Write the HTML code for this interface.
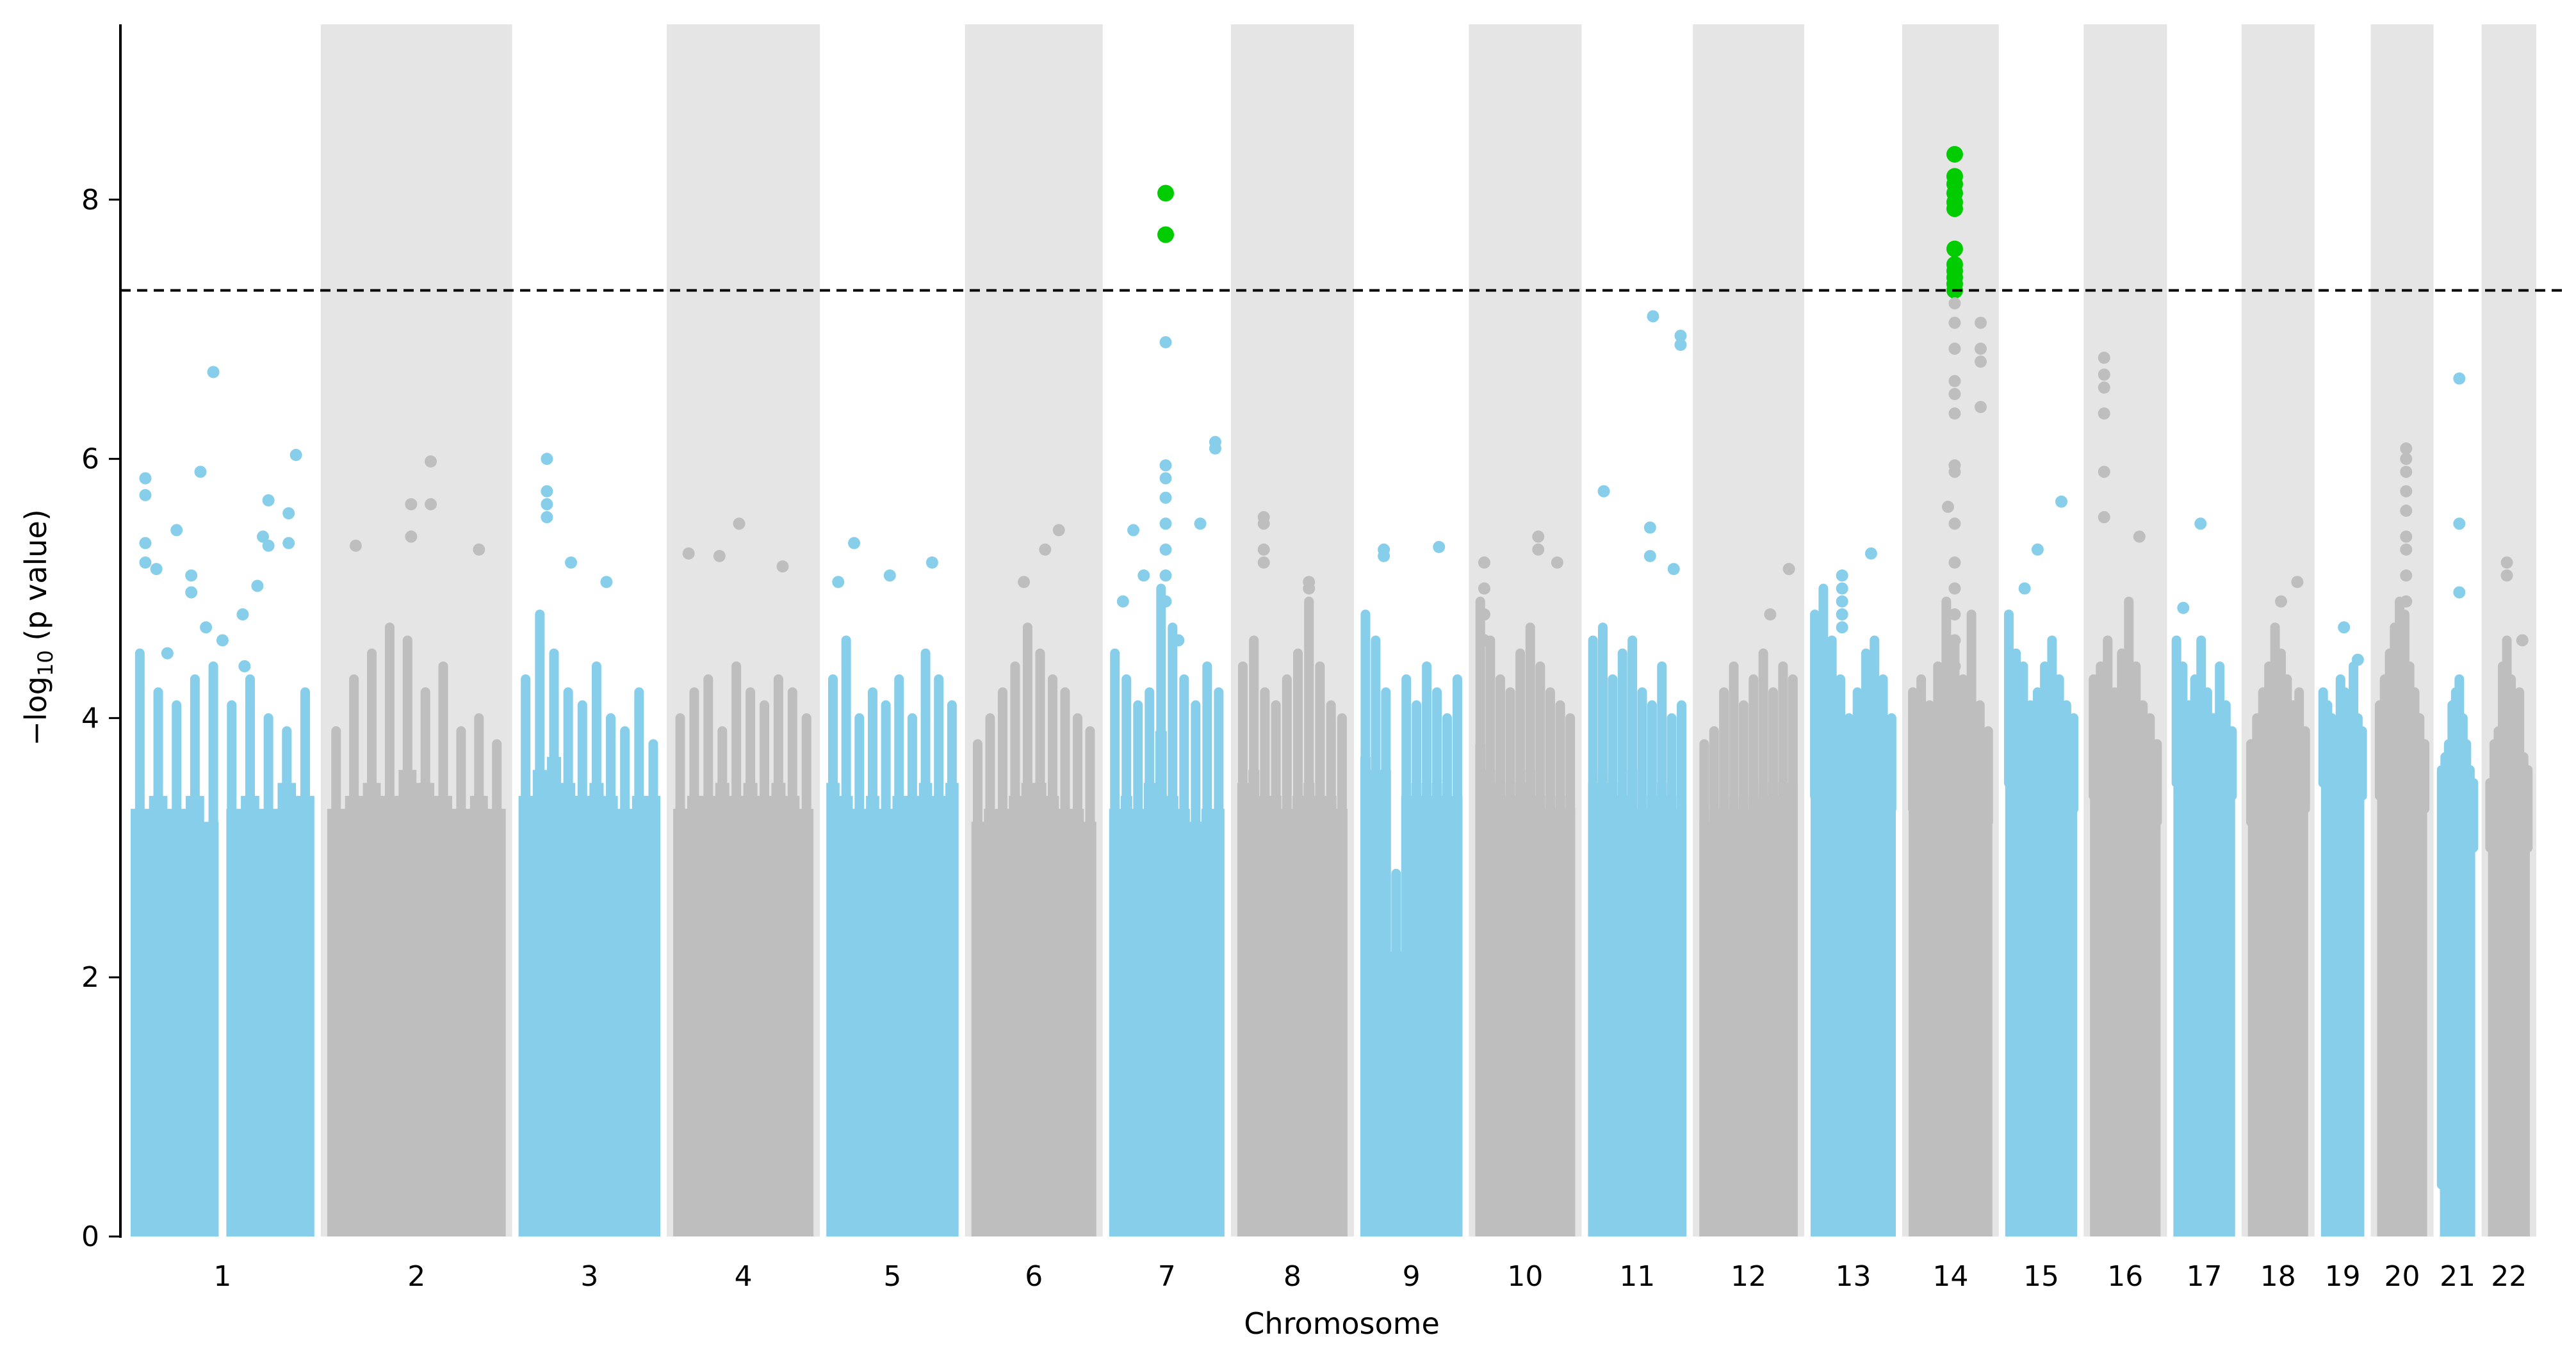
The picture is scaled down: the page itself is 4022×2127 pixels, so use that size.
<!DOCTYPE html>
<html><head><meta charset="utf-8">
<style>
html,body{margin:0;padding:0;background:#fff;}
svg{display:block;font-family:"DejaVu Sans","Liberation Sans",sans-serif;}
</style></head>
<body>
<svg id="chart" width="4022" height="2127" viewBox="0 0 4022 2127" xmlns="http://www.w3.org/2000/svg">
<g id="bands"></g>
<g id="fills"></g>
<g id="points"></g>
<line id="thr" x1="188" x2="4001" stroke="#000" stroke-width="4" stroke-dasharray="16,10"/>
<g id="axes"></g>
<text x="2095" y="2083" font-size="46" text-anchor="middle">Chromosome</text>
<text transform="translate(72,980) rotate(-90)" font-size="46" text-anchor="middle">−log<tspan font-size="32" dy="10">10</tspan><tspan dy="-10"> (p value)</tspan></text>
</svg>
<script>
const chromLengths=[250,243,193,191,180,170,157,150,139,136,134,134,116,114,98,96,84,82,59,68,48,57];
const ceilings=[
[3.3,3.4,3.3,3.4,3.2,3.3,3.4,3.3,3.5,3.4],[3.3,3.4,3.5,3.4,3.6,3.5,3.4,3.3,3.4,3.3],[3.4,3.6,3.7,3.5,3.4,3.5,3.4,3.3,3.4,3.4],
[3.3,3.4,3.4,3.5,3.4,3.5,3.4,3.5,3.4,3.3],[3.5,3.4,3.3,3.4,3.3,3.4,3.4,3.5,3.4,3.5],[3.2,3.3,3.3,3.4,3.5,3.5,3.4,3.3,3.3,3.2],
[3.3,3.4,3.3,3.5,3.9,3.4,3.3,3.2,3.3,3.3],[3.5,3.6,3.4,3.4,3.3,3.4,3.5,3.4,3.4,3.3],[3.7,3.6,3.6,2.2,3.4,3.5,3.4,3.5,3.4,3.4],
[3.8,3.6,3.5,3.4,3.5,3.6,3.4,3.3,3.4,3.3],[3.5,3.6,3.5,3.4,3.6,3.3,3.4,3.5,3.4,3.3],[3.2,3.3,3.3,3.4,3.3,3.4,3.5,3.4,3.5,3.5],
[3.4,3.6,3.5,3.4,3.5,3.4,3.3,3.4,3.3,3.3],[3.3,3.4,3.3,3.5,3.6,3.6,3.4,3.4,3.3,3.2],[3.5,3.6,3.6,3.5,3.4,3.5,3.4,3.4,3.3,3.3],
[3.4,3.5,3.4,3.3,3.5,3.6,3.5,3.4,3.3,3.2],[3.5,3.4,3.5,3.6,3.5,3.4,3.5,3.6,3.5,3.4],[3.2,3.3,3.4,3.5,3.6,3.5,3.4,3.5,3.4,3.3],
[3.5,3.6,3.5,3.4,3.5,3.6,3.5,3.4,3.5,3.4],[3.4,3.5,3.6,3.7,3.8,3.8,3.6,3.5,3.4,3.3],[0.4,3.2,3.3,3.4,3.5,3.4,3.3,3.2,3.1,3.0],[3.0,3.2,3.3,3.4,3.3,3.2,3.3,3.2,3.1,3.0]];
const cloudValues=[
[4.5,4.2,4.1,4.3,4.4,4.1,4.3,4.0,3.9,4.2],[3.9,4.3,4.5,4.7,4.6,4.2,4.4,3.9,4.0,3.8],[4.3,4.8,4.5,4.2,4.1,4.4,4.0,3.9,4.2,3.8],
[4.0,4.2,4.3,3.9,4.4,4.2,4.1,4.3,4.2,4.0],[4.3,4.6,4.0,4.2,4.1,4.3,4.0,4.5,4.3,4.1],[3.8,4.0,4.2,4.4,4.7,4.5,4.3,4.2,4.0,3.9],
[4.5,4.3,4.1,4.2,5.0,4.7,4.3,4.1,4.4,4.2],[4.4,4.6,4.2,4.1,4.3,4.5,4.9,4.4,4.1,4.0],[4.8,4.6,4.2,2.8,4.3,4.1,4.4,4.2,4.0,4.3],
[4.9,4.6,4.3,4.2,4.5,4.7,4.4,4.2,4.1,4.0],[4.6,4.7,4.3,4.5,4.6,4.2,4.1,4.4,4.0,4.1],[3.8,3.9,4.2,4.4,4.1,4.3,4.5,4.2,4.4,4.3],
[4.8,5.0,4.6,4.3,4.0,4.2,4.5,4.6,4.3,4.0],[4.2,4.3,4.1,4.4,4.9,4.6,4.3,4.8,4.1,3.9],[4.8,4.5,4.4,4.1,4.2,4.4,4.6,4.3,4.1,4.0],
[4.3,4.4,4.6,4.2,4.5,4.9,4.4,4.1,4.0,3.8],[4.6,4.4,4.1,4.3,4.6,4.2,4.0,4.4,4.1,3.9],[3.8,4.0,4.2,4.4,4.7,4.5,4.3,4.1,4.2,3.9],
[4.2,4.1,4.0,3.9,4.3,4.2,4.1,4.4,4.0,3.9],[4.1,4.3,4.5,4.7,4.9,4.8,4.4,4.2,4.0,3.8],[3.6,3.7,3.8,4.1,4.2,4.3,4.0,3.8,3.6,3.5],[3.5,3.8,3.9,4.4,4.6,4.3,4.0,4.2,3.7,3.6]];
const hitChrom=[1,1,1,1,1,1,1,1,1,1,1,1,1,1,1,1,1,1,1,1,1,1,
2,2,2,2,2,2,3,3,3,3,3,3,4,4,4,4,5,5,5,5,6,6,6,
7,7,7,7,7,7,7,7,7,7,7,7,7,7,7,7,7,
8,8,8,8,8,8,9,9,9,10,10,10,10,10,10,10,
11,11,11,11,11,11,11,12,12,13,13,13,13,13,13,
14,14,14,14,14,14,14,14,14,14,14,14,14,14,14,14,14,14,14,14,14,14,14,14,14,14,14,14,14,14,14,14,
15,15,15,16,16,16,16,16,16,16,17,17,18,18,19,19,20,20,20,20,20,20,20,20,20,21,21,21,22,22,22];
const hitFrac=[.08,.08,.08,.08,.14,.25,.33,.33,.38,.45,.41,.61,.69,.72,.75,.75,.86,.86,.9,.2,.5,.62,
.58,.58,.47,.47,.16,.85,.2,.2,.2,.2,.37,.62,.11,.47,.33,.78,.21,.48,.8,.09,.7,.59,.42,
.49,.49,.49,.49,.49,.49,.49,.49,.49,.49,.92,.92,.79,.12,.21,.3,.6,
.24,.24,.24,.24,.65,.65,.23,.23,.77,.09,.09,.09,.09,.63,.63,.82,
.66,.94,.94,.16,.63,.63,.87,.91,.72,.37,.37,.37,.37,.37,.71,
.55,.55,.55,.55,.55,.55,.55,.55,.55,.55,.55,.55,.55,.55,.55,.55,.55,.55,.55,.55,.55,.55,.55,.55,.86,.86,.86,.86,.47,.55,.55,.55,
.78,.45,.27,.2,.2,.2,.2,.2,.2,.7,.44,.16,.55,.82,.53,.85,.58,.58,.58,.58,.58,.58,.58,.58,.58,.55,.55,.55,.45,.45,.82];
const hitValue=[5.85,5.72,5.35,5.2,5.15,5.45,5.1,4.97,5.9,6.67,4.7,4.8,5.02,5.4,5.68,5.33,5.58,5.35,6.03,4.5,4.6,4.4,
5.98,5.65,5.65,5.4,5.33,5.3,6.0,5.75,5.65,5.55,5.2,5.05,5.27,5.5,5.25,5.17,5.35,5.1,5.2,5.05,5.45,5.3,5.05,
8.05,7.73,6.9,5.95,5.85,5.7,5.5,5.3,5.1,4.9,6.13,6.08,5.5,4.9,5.45,5.1,4.6,
5.55,5.5,5.3,5.2,5.05,5.0,5.3,5.25,5.32,5.2,5.0,4.8,4.6,5.4,5.3,5.2,
7.1,6.95,6.88,5.75,5.47,5.25,5.15,5.15,4.8,5.1,5.0,4.9,4.8,4.7,5.27,
8.35,8.18,8.12,8.05,7.98,7.93,7.62,7.5,7.45,7.4,7.35,7.3,7.2,7.05,6.85,6.6,6.5,6.35,5.95,5.9,5.2,5.0,4.8,4.6,7.05,6.85,6.75,6.4,5.63,5.5,4.4,4.2,
5.67,5.3,5.0,6.78,6.65,6.55,6.35,5.9,5.55,5.4,5.5,4.85,4.9,5.05,4.7,4.45,6.08,6.0,5.9,5.75,5.6,5.4,5.3,5.1,4.9,6.62,5.5,4.97,5.2,5.1,4.6];
const yTicks=[0,2,4,6,8];
const threshold=7.3;

const NS='http://www.w3.org/2000/svg';
const X0=194,X1=3960,Y0=1931,UNIT=202.4,GAP=20;
const total=chromLengths.reduce((a,b)=>a+b,0);
const K=(X1-X0-GAP*chromLengths.length)/total;
const starts=[];let acc=X0;
chromLengths.forEach(l=>{starts.push(acc);acc+=l*K+GAP;});
function bandLeft(i){return starts[i];}
function bandRight(i){return starts[i]+chromLengths[i]*K+GAP;}
function xScale(c,f){return starts[c]+GAP/2+f*chromLengths[c]*K;}
function yScale(v){return Y0-v*UNIT;}
function mk(tag,attrs,parent){const e=document.createElementNS(NS,tag);for(const k in attrs)e.setAttribute(k,attrs[k]);parent.appendChild(e);return e;}

const bands=document.getElementById('bands'),fills=document.getElementById('fills'),pts=document.getElementById('points'),axes=document.getElementById('axes');
chromLengths.forEach((l,i)=>{
  if(i%2===1){
    const r=mk('rect',{x:bandLeft(i),y:38,width:bandRight(i)-bandLeft(i),height:Y0-38,fill:'#e5e5e5'},bands);
    
    
  }
  const col=i%2===0?'#87ceeb':'#bebebe';
  const c=ceilings[i];
  let d='M'+xScale(i,0)+','+Y0;
  c.forEach((v,j)=>{const f0=j/c.length,f1=(j+1)/c.length;d+=' L'+xScale(i,f0)+','+yScale(v)+' L'+xScale(i,f1)+','+yScale(v);});
  d+=' L'+xScale(i,1)+','+Y0+'Z';
  const p=mk('path',{d:d,fill:col},fills);
  
  
  const cv=cloudValues[i];
  cv.forEach((v,j)=>{
    const x=xScale(i,(j+0.5)/cv.length);
    const ln=mk('line',{x1:x,x2:x,y1:yScale(v),y2:yScale(c[j]),stroke:col,'stroke-width':15,'stroke-linecap':'round'},pts);
    
    
  });
  const t=mk('text',{x:(bandLeft(i)+bandRight(i))/2,y:2008,'font-size':44,'text-anchor':'middle'},axes);
  t.textContent=String(i+1);
  
  
});
[[0,0.5,12]].forEach(g=>{
  const r=mk('rect',{x:xScale(g[0],g[1])-g[2]/2,y:yScale(4.5),width:g[2],height:Y0-yScale(4.5),fill:'#fff'},fills);
  
  
});
hitValue.forEach((v,i)=>{
  const c=hitChrom[i]-1;
  const sig=v>=threshold;
  const col=sig?'#00cc00':(c%2===0?'#87ceeb':'#bebebe');
  const e=mk('circle',{cx:xScale(c,hitFrac[i]),cy:yScale(v),r:sig?13:9.5,fill:col},pts);
  
  
});
const thr=document.getElementById('thr');thr.setAttribute('y1',yScale(threshold));thr.setAttribute('y2',yScale(threshold));
const sp=mk('line',{x1:188,x2:188,y1:38,y2:Y0+2,stroke:'#000','stroke-width':4},axes);


yTicks.forEach(v=>{
  const l=mk('line',{x1:170,x2:188,y1:yScale(v),y2:yScale(v),stroke:'#000','stroke-width':3},axes);
  
  
  const t=mk('text',{x:155,y:yScale(v)+15,'font-size':44,'text-anchor':'end'},axes);
  t.textContent=String(v);
  
  
});
</script>
</body></html>
